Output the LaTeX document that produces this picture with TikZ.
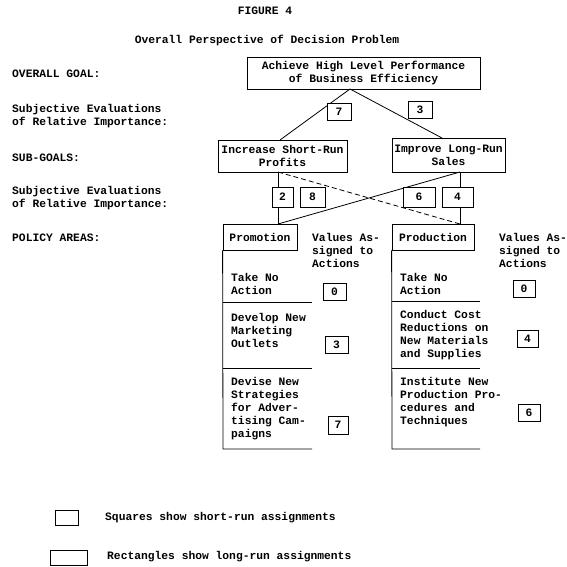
\documentclass[tikz,border=0pt]{standalone}
\usepackage{fontspec}
\setmonofont{Liberation Mono}
\begin{document}
\begin{tikzpicture}[x=1pt,y=-1pt,
  tt/.style={font=\ttfamily\bfseries\fontsize{11.3}{13}\selectfont},
  txt/.style={tt, inner sep=0pt, align=left, anchor=west},
  ctxt/.style={tt, inner sep=0pt, align=center},
  box/.style={tt, draw, line width=0.8pt, align=center, inner sep=0pt},
  valbox/.style={tt, draw, fill=white, line width=0.8pt, inner sep=0pt, minimum height=17pt},
  conn/.style={line width=0.8pt},
  dconn/.style={line width=0.8pt, dash pattern=on 5pt off 3pt}]
\useasboundingbox (0,0) rectangle (567,567);

% titles
\node[ctxt] (fig) at (265,11) {FIGURE 4};
\node[ctxt] (ttl) at (267,40) {Overall Perspective of Decision Problem};

% left labels
\node[txt] (lgoal) at (12,74) {OVERALL GOAL:};
\node[txt] (lsub1) at (12,116.5) {Subjective Evaluations\\of Relative Importance:};
\node[txt] (lsubg) at (12,158) {SUB-GOALS:};
\node[txt] (lsub2) at (12,198.5) {Subjective Evaluations\\of Relative Importance:};
\node[txt] (lpol) at (12,238) {POLICY AREAS:};

% goal boxes
\node[box, minimum width=233pt, minimum height=32pt] (goal) at (363.5,73) {Achieve High Level Performance\\of Business Efficiency};
\node[box, minimum width=129pt, minimum height=32pt] (inc) at (282.5,156) {Increase Short-Run\\Profits};
\node[box, minimum width=113pt, minimum height=34pt] (imp) at (448.5,155) {Improve Long-Run\\Sales};

% connectors level 1
\coordinate (apex) at (350,89);
\coordinate (incT) at (280,140);
\coordinate (impT) at (442,138);
\draw[conn] (apex) -- (incT);
\draw[conn] (apex) -- (impT);
\node[valbox, minimum width=24pt] (w7) at (339,111.5) {7};
\node[valbox, minimum width=24pt] (w3) at (420,109.5) {3};

% policy area boxes
\node[box, minimum width=74pt, minimum height=26pt] (promo) at (260,237) {Promotion};
\node[box, minimum width=82pt, minimum height=26pt] (prod) at (433,237) {Production};

% connectors level 2
\coordinate (incB) at (278,172);
\coordinate (impB) at (460,172);
\coordinate (promoT) at (278,224);
\coordinate (prodT) at (460,224);
\draw[conn] (incB) -- (promoT);
\draw[conn] (impB) -- (prodT);
\draw[conn] (impB) -- (promoT);
\draw[dconn] (incB) -- (prodT);
\node[valbox, minimum width=21pt, minimum height=20pt] (w2) at (282.5,197) {2};
\node[valbox, minimum width=25pt, minimum height=20pt] (w8) at (312.5,197) {8};
\node[valbox, minimum width=32pt, minimum height=20pt] (w6) at (419,197) {6};
\node[valbox, minimum width=31pt, minimum height=20pt] (w4) at (457.5,197) {4};

% promotion column
\coordinate (pl1) at (223,302); \coordinate (pr1) at (312,302);
\coordinate (pl2) at (223,368); \coordinate (pr2) at (312,368);
\coordinate (pl3) at (223,449); \coordinate (pr3) at (312,449);
\draw[conn] (promo.south west) -- (pl3) -- (pr3);
\draw[conn] (pl1) -- (pr1);
\draw[conn] (pl2) -- (pr2);
\node[txt] (va1) at (312,250) {Values As-\\signed to\\Actions};
\node[txt] (pa1) at (231,283.5) {Take No\\Action};
\node[txt] (pa2) at (231,330) {Develop New\\Marketing\\Outlets};
\node[txt] (pa3) at (231,409) {Devise New\\Strategies\\for Adver-\\tising Cam-\\paigns};
\node[valbox, minimum width=23pt] (pv1) at (334.5,291.5) {0};
\node[valbox, minimum width=23pt] (pv2) at (336.5,344.5) {3};
\node[valbox, minimum width=20pt, minimum height=18pt] (pv3) at (338,425) {7};

% production column
\coordinate (ql1) at (392,301); \coordinate (qr1) at (480,301);
\coordinate (ql2) at (392,368); \coordinate (qr2) at (480,368);
\coordinate (ql3) at (392,449); \coordinate (qr3) at (480,449);
\draw[conn] (prod.south west) -- (ql3) -- (qr3);
\draw[conn] (ql1) -- (qr1);
\draw[conn] (ql2) -- (qr2);
\node[txt] (va2) at (499,250) {Values As-\\signed to\\Actions};
\node[txt] (qa1) at (400,283.5) {Take No\\Action};
\node[txt] (qa2) at (400,335.5) {Conduct Cost\\Reductions on\\New Materials\\and Supplies};
\node[txt] (qa3) at (400,402.5) {Institute New\\Production Pro-\\cedures and\\Techniques};
\node[valbox, minimum width=22pt] (qv1) at (524,288.5) {0};
\node[valbox, minimum width=21pt] (qv2) at (527.5,339) {4};
\node[valbox, minimum width=22pt] (qv3) at (529,412.5) {6};

% legend
\node[draw, line width=0.8pt, minimum width=23pt, minimum height=15pt, inner sep=0pt] (sq) at (66.5,517.5) {};
\node[draw, line width=0.8pt, minimum width=37pt, minimum height=15pt, inner sep=0pt] (rc) at (68.5,557.5) {};
\node[txt] (sqt) at (105,518) {Squares show short-run assignments};
\node[txt] (rct) at (107,557) {Rectangles show long-run assignments};
\end{tikzpicture}
\end{document}
